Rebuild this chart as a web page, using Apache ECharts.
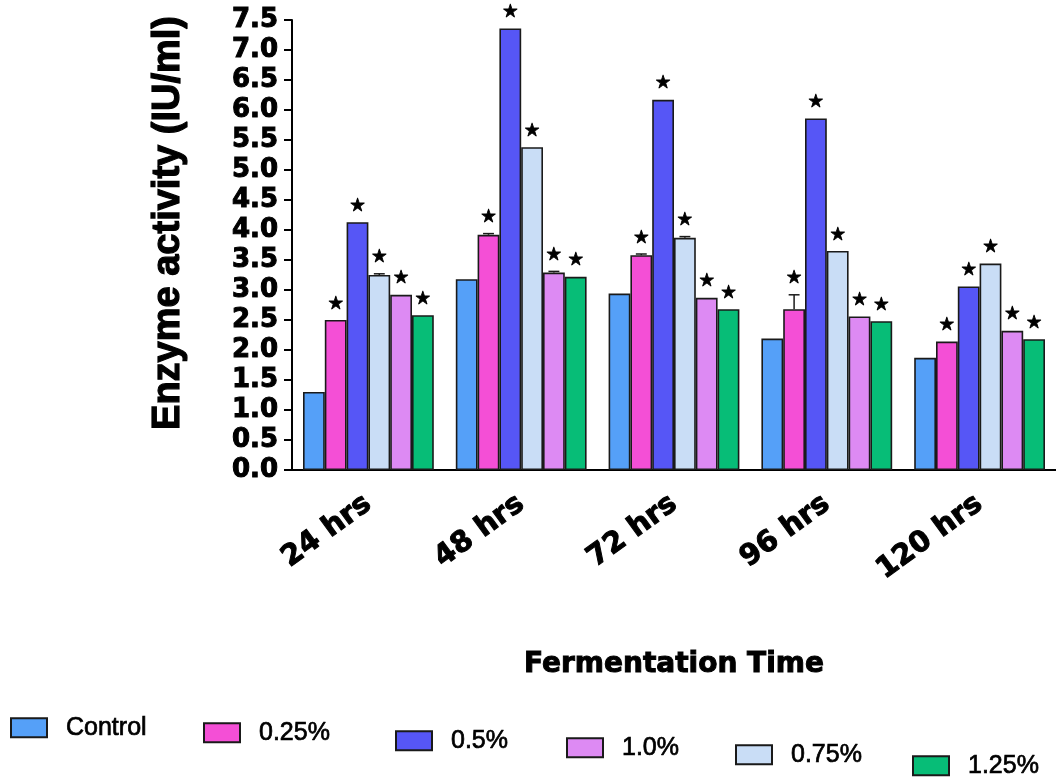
<!DOCTYPE html>
<html>
<head>
<meta charset="utf-8">
<script src="https://cdn.jsdelivr.net/npm/echarts@6/dist/echarts.min.js"></script>
<style>
  html, body { margin: 0; padding: 0; background: #ffffff; }
  #chart { width: 1056px; height: 778px; }
</style>
</head>
<body>
<div id="chart"></div>
<script>
// Fermentation time points (x categories)
const categories = ['24 hrs', '48 hrs', '72 hrs', '96 hrs', '120 hrs'];

// Treatment groups, in bar order inside each time point
const seriesNames = ['Control', '0.25%', '0.5%', '0.75%', '1.0%', '1.25%'];

// Enzyme activity (IU/ml) per treatment
const controlValues = [1.30, 3.18, 2.94, 2.19, 1.87];
const pct025Values  = [2.50, 3.92, 3.58, 2.68, 2.14];
const pct05Values   = [4.13, 7.36, 6.17, 5.86, 3.06];
const pct075Values  = [3.25, 5.38, 3.87, 3.65, 3.44];
const pct10Values   = [2.92, 3.29, 2.87, 2.56, 2.32];
const pct125Values  = [2.58, 3.22, 2.68, 2.48, 2.18];

// Standard error per treatment
const controlErr = [0, 0, 0, 0, 0];
const pct025Err  = [0, 0.02, 0.02, 0.24, 0];
const pct05Err   = [0, 0, 0, 0, 0];
const pct075Err  = [0.02, 0, 0.02, 0, 0];
const pct10Err   = [0, 0.02, 0, 0, 0];
const pct125Err  = [0, 0, 0, 0, 0];

// Significance vs. control (asterisk above the bar)
const significant = [false, true, true, true, true, true];

// Y axis tick range
const yMin = 0, yMax = 7.5, yStep = 0.5;

const values = [controlValues, pct025Values, pct05Values, pct075Values, pct10Values, pct125Values];
const errors = [controlErr, pct025Err, pct05Err, pct075Err, pct10Err, pct125Err];
const colors = ['#55A0F8', '#F44FD6', '#5656F6', '#C9DDF6', '#DD8AF3', '#07BD77'];

// Legend placement (staggered row along the bottom)
const legendSpots = {
  'Control': [10, 715],
  '0.25%':   [203, 720],
  '0.5%':    [395, 728],
  '1.0%':    [566, 735],
  '0.75%':   [735, 742],
  '1.25%':   [912, 753]
};

const CAT_GAP = 0.144;
const N = seriesNames.length;

function errorRenderer(sIdx) {
  return function (params, api) {
    const cat = api.value(0);
    const v = api.value(1);
    const e = api.value(2);
    const base = api.coord([cat, v]);
    const top = api.coord([cat, v + e]);
    const band = api.size([1, 0])[0];
    const bw = band * (1 - CAT_GAP) / N;
    const x = base[0] + (sIdx - (N - 1) / 2) * bw;
    const children = [];
    if (e > 0) {
      children.push({
        type: 'line',
        shape: { x1: x, y1: base[1], x2: x, y2: top[1] },
        style: { stroke: '#1a1a1a', lineWidth: 1.5 }
      });
      children.push({
        type: 'line',
        shape: { x1: x - bw * 0.25, y1: top[1], x2: x + bw * 0.25, y2: top[1] },
        style: { stroke: '#1a1a1a', lineWidth: 1.5 }
      });
    }
    if (significant[sIdx]) {
      children.push({
        type: 'text',
        style: {
          text: '★', x: x, y: top[1] - 16,
          align: 'center', verticalAlign: 'middle',
          fontFamily: 'DejaVu Sans', fontSize: 18, fill: '#000',
          stroke: '#000', lineWidth: 0.8
        }
      });
    }
    return { type: 'group', children: children };
  };
}

const series = [];
seriesNames.forEach(function (name, i) {
  series.push({
    name: name,
    type: 'bar',
    data: values[i],
    barGap: '0%',
    barCategoryGap: (CAT_GAP * 100) + '%',
    itemStyle: { color: colors[i], borderColor: '#1a1a1a', borderWidth: 1.6 },
    emphasis: { disabled: true }
  });
});
seriesNames.forEach(function (name, i) {
  series.push({
    type: 'custom',
    renderItem: errorRenderer(i),
    data: values[i].map(function (v, k) { return [k, v, errors[i][k]]; }),
    z: 5,
    silent: true
  });
});

const legends = seriesNames.map(function (name) {
  const spot = legendSpots[name];
  return {
    data: [name],
    left: spot[0],
    top: spot[1],
    padding: 0,
    icon: 'rect',
    itemWidth: 36,
    itemHeight: 19,
    selectedMode: false,
    textStyle: {
      fontFamily: 'Liberation Sans', fontSize: 25, color: '#000',
      textBorderColor: '#000', textBorderWidth: 0.7,
      padding: [0, 0, 0, 14]
    }
  };
});

const chart = echarts.init(document.getElementById('chart'), null, { renderer: 'canvas' });
chart.setOption({
  backgroundColor: '#ffffff',
  animation: false,
  color: colors,
  legend: legends,
  grid: { left: 292, top: 20, width: 766, bottom: 308, containLabel: false },
  xAxis: {
    type: 'category',
    data: categories,
    name: 'Fermentation Time',
    nameLocation: 'middle',
    nameGap: 181,
    nameTextStyle: {
      fontFamily: 'DejaVu Sans', fontWeight: 'bold', fontSize: 28, color: '#000',
      textBorderColor: '#000', textBorderWidth: 1
    },
    axisLine: { lineStyle: { color: '#000', width: 2 } },
    axisTick: { alignWithLabel: true, length: 8, lineStyle: { color: '#000', width: 2 } },
    axisLabel: {
      rotate: 36, margin: 31,
      fontFamily: 'DejaVu Sans', fontWeight: 'bold', fontSize: 29, color: '#000',
      textBorderColor: '#000', textBorderWidth: 1
    },
    splitLine: { show: false }
  },
  yAxis: {
    type: 'value',
    min: yMin, max: yMax, interval: yStep,
    name: 'Enzyme activity (IU/ml)',
    nameLocation: 'middle',
    nameRotate: 90,
    nameGap: 104,
    nameTextStyle: {
      fontFamily: 'Liberation Sans', fontWeight: 'bold', fontSize: 38, color: '#000',
      textBorderColor: '#000', textBorderWidth: 1.2,
      padding: [0, 0, 0, 44]
    },
    axisLine: { show: true, lineStyle: { color: '#000', width: 2 } },
    axisTick: { show: true, length: 8, lineStyle: { color: '#000', width: 2 } },
    axisLabel: {
      margin: 14,
      formatter: function (v) { return v.toFixed(1); },
      fontFamily: 'DejaVu Sans', fontWeight: 'bold', fontSize: 26, color: '#000',
      textBorderColor: '#000', textBorderWidth: 1
    },
    splitLine: { show: false }
  },
  series: series
});
</script>
</body>
</html>
